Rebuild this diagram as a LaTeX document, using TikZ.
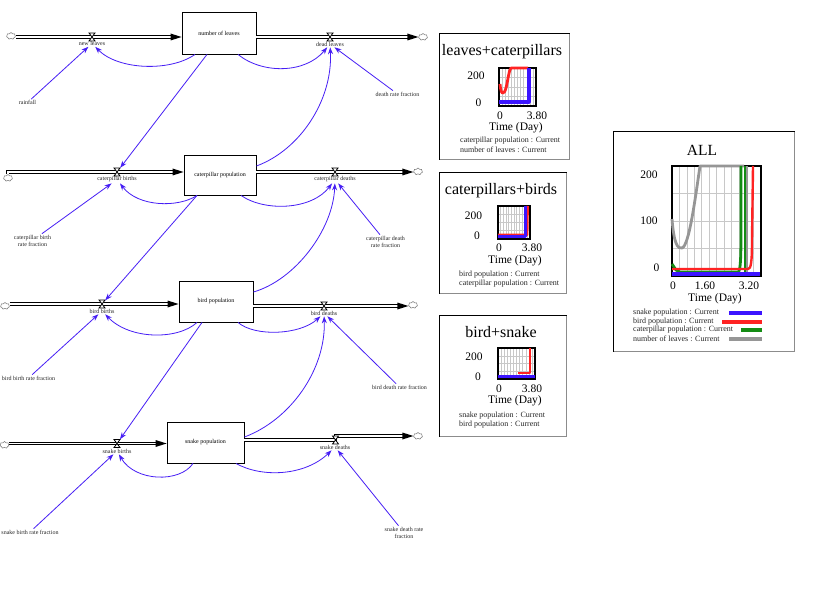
\documentclass[tikz,border=0pt]{standalone}
\usepackage{fontspec}
\setmainfont{Liberation Serif}
\usetikzlibrary{arrows.meta,shapes.symbols,calc}
\definecolor{linkblue}{RGB}{70,30,245}
\definecolor{pred}{RGB}{255,35,35}
\definecolor{pblue}{RGB}{60,20,255}
\definecolor{pgreen}{RGB}{20,140,20}
\definecolor{pgrey}{RGB}{150,150,150}
\definecolor{gridgrey}{RGB}{200,200,200}
\tikzset{
 stock/.style={draw, line width=0.9pt, inner sep=0pt, font=\fontsize{6}{7}\selectfont},
 lbl/.style={inner sep=1pt, font=\fontsize{6}{7}\selectfont, align=center, text=black!85},
 cloudst/.style={cloud, cloud puffs=7, draw=black!55, line width=0.5pt, minimum width=9pt, minimum height=7pt, inner sep=0pt},
 valvenode/.style={inner sep=0pt, minimum width=6pt, minimum height=8pt},
 vlv/.pic={\draw[line width=0.8pt, line join=miter, fill=white] (-3,-4) -- (3,-4) -- (-3,4) -- (3,4) -- cycle;},
 pipe/.style={line width=3.6pt, draw=black, shorten >=9pt, line join=miter,
   postaction={draw=white, line width=1.4pt, shorten >=9pt}},
 link/.style={draw=linkblue, line width=0.8pt, -{Stealth[length=7pt,width=5pt]}},
 panel/.style={draw=black!45, line width=0.7pt, anchor=north west, inner sep=0pt},
 ptitle/.style={font=\fontsize{16}{18}\selectfont},
 pnum/.style={font=\fontsize{11.5}{13}\selectfont, inner sep=0pt},
 pleg/.style={font=\fontsize{8}{9}\selectfont, anchor=west, inner sep=0pt, text=black!85},
 plotbox/.style={draw=black, line width=1.5pt},
 gridl/.style={draw=gridgrey, line width=0.5pt},
 dataline/.style={line width=2.8pt, line join=round},
}
\begin{document}
\begin{tikzpicture}[x=1pt,y=-1pt]
\useasboundingbox[fill=white] (0,0) rectangle (824,612);

% ---------- Row 1: leaves ----------
\node[stock, minimum width=74pt, minimum height=42pt] (L) at (219,33) {number of leaves};
\node[valvenode] (nl) at (92,37) {};
\node[valvenode] (dl) at (330,37) {};
\node[cloudst] (c1a) at (11,36) {};
\node[cloudst] (c1b) at (423,37) {};
\node[lbl] (nlL) at (92,43.5) {new leaves};
\node[lbl] (dlL) at (330,44) {dead leaves};
\node[lbl] (rain) at (27.5,102.5) {rainfall};
\node[lbl] (drf) at (397.5,94) {death rate fraction};

% ---------- Row 2: caterpillars ----------
\node[stock, minimum width=72pt, minimum height=40pt] (C) at (220,175) {caterpillar population};
\node[valvenode] (cb) at (117,172) {};
\node[valvenode] (cd) at (335,172) {};
\node[cloudst] (c2a) at (8,178) {};
\node[cloudst] (c2b) at (418,171.5) {};
\node[lbl] (cbL) at (117,179.5) {caterpillar births};
\node[lbl] (cdL) at (335,179.5) {caterpillar deaths};
\node[lbl] (cbrf) at (32.5,240.5) {caterpillar birth\\rate fraction};
\node[lbl] (cdrf) at (385.5,241.5) {caterpillar death\\rate fraction};

% ---------- Row 3: birds ----------
\node[stock, minimum width=74pt, minimum height=41pt] (B) at (216,301.5) {bird population};
\node[valvenode] (bb) at (102,304) {};
\node[valvenode] (bd) at (324,306) {};
\node[cloudst] (c3a) at (5,306) {};
\node[cloudst] (c3b) at (413,305) {};
\node[lbl] (bbL) at (102,311) {bird births};
\node[lbl] (bdL) at (324,313) {bird deaths};
\node[lbl] (bbrf) at (28.5,378) {bird birth rate fraction};
\node[lbl] (bdrf) at (399.5,387) {bird death rate fraction};

% ---------- Row 4: snakes ----------
\node[stock, minimum width=77pt, minimum height=41pt] (S) at (205.5,442.5) {snake population};
\node[valvenode] (sb) at (117,443.5) {};
\node[valvenode] (sd) at (335.5,440) {};
\node[cloudst] (c4a) at (4.5,445) {};
\node[cloudst] (c4b) at (418,436) {};
\node[lbl] (sbL) at (117,451) {snake births};
\node[lbl] (sdL) at (335,447) {snake deaths};
\node[lbl] (sbrf) at (30,532) {snake birth rate fraction};
\node[lbl] (sdrf) at (404,532.5) {snake death rate\\fraction};

% ---------- Pipes ----------
\draw[pipe] (c1a.east |- nl) -- (L.west |- nl);
\fill (L.west |- nl) -- ++(-11,3.5) -- ++(0,-7) -- cycle;
\draw[pipe] (L.east |- dl) -- (c1b.west |- dl);
\fill (c1b.west |- dl) -- ++(-11,3.5) -- ++(0,-7) -- cycle;

\draw[pipe] (c2a.north) |- (C.west |- cb);
\fill (C.west |- cb) -- ++(-11,3.5) -- ++(0,-7) -- cycle;
\draw[pipe] (C.east |- cd) -- (c2b.west |- cd);
\fill (c2b.west |- cd) -- ++(-11,3.5) -- ++(0,-7) -- cycle;

\draw[pipe] (c3a.east |- bb) -- (B.west |- bb);
\fill (B.west |- bb) -- ++(-11,3.5) -- ++(0,-7) -- cycle;
\draw[pipe] (B.east |- bd) -- (c3b.west |- bd);
\fill (c3b.west |- bd) -- ++(-11,3.5) -- ++(0,-7) -- cycle;

\draw[pipe] (c4a.east |- sb) -- (S.west |- sb);
\fill (S.west |- sb) -- ++(-11,3.5) -- ++(0,-7) -- cycle;
\draw[pipe] (S.east |- sd) -- (sd.center) |- (c4b.west);
\fill (c4b.west) -- ++(-11,3.5) -- ++(0,-7) -- cycle;

\foreach \v in {nl,dl,cb,cd,bb,bd,sb,sd} \pic at (\v) {vlv};

% ---------- Links ----------
\draw[link] (rain) -- (nlL);
\draw[link] ([xshift=-24pt]L.south) .. controls (170,72) and (118,70) .. (nlL);
\draw[link] ([xshift=19pt]L.south) .. controls (262,74) and (305,74) .. (dlL);
\draw[link] (drf) -- (dlL);
\draw[link] ([yshift=9pt]C.east) .. controls (300,150) and (333,100) .. (dlL);
\draw[link] ([xshift=-12pt]L.south) -- (cb);

\draw[link] (cbrf) -- (cbL);
\draw[link] ([xshift=-23pt]C.south) .. controls (178,208) and (138,207) .. (cbL);
\draw[link] ([xshift=21pt]C.south) .. controls (265,212) and (312,210) .. (cdL);
\draw[link] (cdrf) -- (cdL);
\draw[link] ([yshift=9.5pt]B.east) .. controls (295,280) and (333,230) .. (cdL);
\draw[link] ([xshift=-23pt]C.south) -- (bb);

\draw[link] (bbrf) -- (bbL);
\draw[link] ([xshift=-19pt]B.south) .. controls (178,340) and (130,340) .. (bbL);
\draw[link] ([xshift=22pt]B.south) .. controls (255,337) and (300,335) .. (bdL);
\draw[link] (bdrf) -- (bdL);
\draw[link] ([yshift=5.5pt]S.east) .. controls (290,420) and (326,370) .. (bdL);
\draw[link] ([xshift=-14pt]B.south) -- (sb);

\draw[link] (sbrf) -- (sbL);
\draw[link] ([xshift=-12.5pt]S.south) .. controls (180,483) and (135,482) .. (sbL);
\draw[link] ([xshift=30.5pt]S.south) .. controls (262,478) and (305,476) .. (sdL);
\draw[link] (sdrf) -- (sdL);

% ---------- Panel 1 ----------
\node[panel, minimum width=130pt, minimum height=126pt] (P1) at (439,33) {};
\draw[line width=0.7pt] (P1.south west) -- (P1.north west) -- (P1.north east);
\node[ptitle] at (502,51.5) {leaves+caterpillars};
\foreach \i in {1,...,11} \draw[gridl] ({499+\i*37/12},68) -- ({499+\i*37/12},106);
\foreach \j in {1,2,3} \draw[gridl] (499,{68+\j*9.5}) -- (536,{68+\j*9.5});
\draw[plotbox] (499,68) rectangle (536,106);
\draw[dataline, pred] (500,84) .. controls (501,96) and (504,95) .. (506,88) .. controls (508,80) and (509,70) .. (511,68) -- (528,68);
\draw[dataline, pblue, line width=3.2pt] (499,102) -- (529,102) -- (529,68);
\node[pnum] at (476,76) {200};
\node[pnum] at (478.5,103) {0};
\node[pnum] at (500,115.5) {0};
\node[pnum] at (537,115.5) {3.80};
\node[pnum] at (516,128) {Time (Day)};
\node[pleg] at (460,141) {caterpillar population : Current};
\node[pleg] at (460,150) {number of leaves : Current};

% ---------- Panel 2 ----------
\node[panel, minimum width=127pt, minimum height=121pt] (P2) at (439,172) {};
\draw[line width=0.7pt] (P2.south west) -- (P2.north west) -- (P2.north east);
\node[ptitle] at (501,190.5) {caterpillars+birds};
\foreach \i in {1,...,11} \draw[gridl] ({498+\i*32/12},206) -- ({498+\i*32/12},239);
\foreach \j in {1,2,3} \draw[gridl] (498,{206+\j*8.25}) -- (530,{206+\j*8.25});
\draw[plotbox] (498,206) rectangle (530,239);
\draw[dataline, pred] (498,235) -- (527,235) -- (527.5,206);
\draw[dataline, pblue, line width=3.2pt] (498,236.5) -- (525.5,236.5) -- (525.5,206);
\node[pnum] at (473.5,216) {200};
\node[pnum] at (477,236) {0};
\node[pnum] at (499,247.5) {0};
\node[pnum] at (532,247.5) {3.80};
\node[pnum] at (515,261) {Time (Day)};
\node[pleg] at (459,275) {bird population : Current};
\node[pleg] at (459,284) {caterpillar population : Current};

% ---------- Panel 3 ----------
\node[panel, minimum width=127pt, minimum height=121pt] (P3) at (439,315) {};
\draw[line width=0.7pt] (P3.south west) -- (P3.north west) -- (P3.north east);
\node[ptitle] at (501,332.5) {bird+snake};
\foreach \i in {1,...,11} \draw[gridl] ({498+\i*37/12},348) -- ({498+\i*37/12},379);
\foreach \j in {1,2,3} \draw[gridl] (498,{348+\j*7.75}) -- (535,{348+\j*7.75});
\draw[plotbox] (498,348) rectangle (535,379);
\draw[dataline, pblue, line width=3.2pt] (498,376.5) -- (535,376.5);
\draw[dataline, pred, line width=2.2pt] (518,373) -- (530,373) -- (530,348);
\node[pnum] at (474,357) {200};
\node[pnum] at (478,377) {0};
\node[pnum] at (499,388.5) {0};
\node[pnum] at (532,388.5) {3.80};
\node[pnum] at (515,400.5) {Time (Day)};
\node[pleg] at (459,416) {snake population : Current};
\node[pleg] at (459,424.5) {bird population : Current};

% ---------- Panel ALL ----------
\node[panel, minimum width=181pt, minimum height=220pt] (P4) at (613,131) {};
\draw[line width=0.7pt] (P4.south west) -- (P4.north west) -- (P4.north east);
\node[font=\fontsize{15.5}{17}\selectfont] at (702,150) {ALL};
\foreach \i in {1,...,11} \draw[gridl] ({672+\i*89/12},166) -- ({672+\i*89/12},276);
\foreach \y in {193.5,221,248.5} \draw[gridl] (672,\y) -- (761,\y);
\draw[plotbox] (672,166) rectangle (761,276);
\draw[dataline, pgrey] (672,219) .. controls (674,245) and (678,249) .. (682,248) .. controls (689,246) and (695,200) .. (700,166) -- (744,166);
\draw[dataline, pgrey] (746.5,166) -- (746.5,276);
\draw[dataline, pgreen] (672,264) -- (676,270) -- (680,272) -- (738,272) .. controls (741,272) and (741,250) .. (741,225) -- (741,166);
\draw[dataline, pgreen] (745,166) -- (745,276);
\draw[dataline, pred, line width=2.4pt] (672,269) -- (748,269) .. controls (751,269) and (752,262) .. (752,240) -- (753,166);
\draw[dataline, pblue, line width=3.4pt] (672,274) -- (760,274);
\node[pnum] at (649,175) {200};
\node[pnum] at (649,221) {100};
\node[pnum] at (656.5,268) {0};
\node[pnum] at (673,285.5) {0};
\node[pnum] at (705,285.5) {1.60};
\node[pnum] at (749,285.5) {3.20};
\node[pnum] at (715,299) {Time (Day)};
\node[pleg] at (633,313) {snake population : Current};
\node[pleg] at (633,321.5) {bird population : Current};
\node[pleg] at (633,330) {caterpillar population : Current};
\node[pleg] at (633,338.5) {number of leaves : Current};
\draw[pblue, line width=4pt] (729,313) -- (762,313);
\draw[pred, line width=4pt] (722,321.5) -- (762,321.5);
\draw[pgreen, line width=4pt] (741,330) -- (762,330);
\draw[pgrey, line width=4pt] (729,338.5) -- (762,338.5);
\end{tikzpicture}
\end{document}
